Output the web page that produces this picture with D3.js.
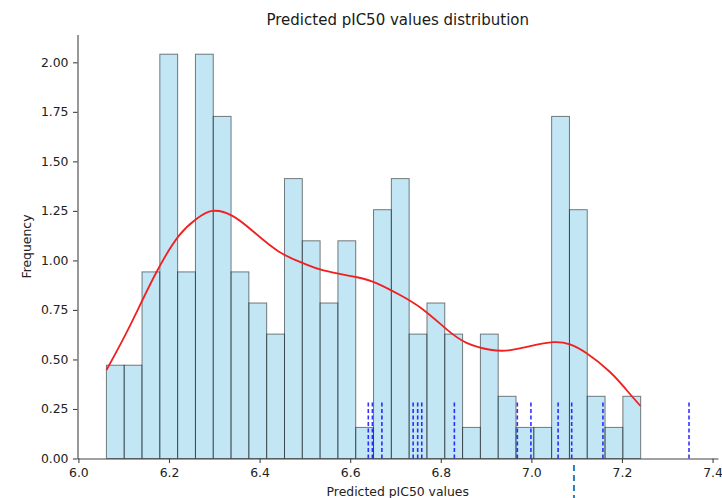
<!DOCTYPE html>
<html>
<head>
<meta charset="utf-8">
<script src="https://cdn.jsdelivr.net/npm/d3@7"></script>
<style>
  body { margin: 0; background: #fff; }
  svg { display: block; font-family: "DejaVu Sans", sans-serif; }
  .tick text { fill: #222; font-size: 12.4px; }
  .tick line { stroke: #444; stroke-width: 1.1; }
</style>
</head>
<body>
<svg id="chart" width="722" height="498"></svg>
<script>
// histogram bins (30 equal bins between first and last edge), counts
const binStart = 6.0618;
const binEnd = 7.2413;
const binCounts = [3, 3, 6, 13, 6, 13, 11, 6, 5, 4, 9, 7, 5, 7, 1, 8, 9, 4, 5, 4, 1, 4, 2, 1, 1, 11, 8, 2, 1, 2];

// kde curve samples (x, density)
const kdeX = [6.062, 6.112, 6.171, 6.222, 6.259, 6.296, 6.340, 6.384, 6.442, 6.497, 6.541, 6.615,
  6.659, 6.710, 6.762, 6.813, 6.857, 6.909, 6.950, 6.995, 7.048, 7.085, 7.122, 7.173, 7.210, 7.241];
const kdeY = [0.447, 0.662, 0.935, 1.125, 1.207, 1.250, 1.225, 1.150, 1.045, 0.985, 0.950, 0.915,
  0.884, 0.825, 0.750, 0.652, 0.584, 0.549, 0.546, 0.566, 0.587, 0.576, 0.531, 0.438, 0.346, 0.265];

// dashed markers of individual predictions
const markerX = [6.640, 6.649, 6.670, 6.739, 6.749, 6.758, 6.830, 6.969, 6.999, 7.059, 7.089, 7.158, 7.348];
const markerTop = 0.29;

// stray dashed line under the axis
const strayX = 7.094;
const strayY = [-0.033, -0.2];

const xTicks = [6.0, 6.2, 6.4, 6.6, 6.8, 7.0, 7.2, 7.4];
const yTicks = [0, 0.25, 0.5, 0.75, 1.0, 1.25, 1.5, 1.75, 2.0];

const svg = d3.select('svg#chart');

const x = d3.scaleLinear().domain([5.998, 7.412]).range([77.5, 718]);
const y = d3.scaleLinear().domain([0, 2.14]).range([458.5, 34.6]);

// turn counts into density
const total = d3.sum(binCounts);
const binW = (binEnd - binStart) / binCounts.length;
const bins = binCounts.map((c, i) => ({
  x0: binStart + i * binW,
  x1: binStart + (i + 1) * binW,
  freq: c / (total * binW)
}));

svg.append('g')
  .selectAll('rect')
  .data(bins)
  .enter()
  .append('rect')
  .attr('x', d => x(d.x0))
  .attr('width', d => x(d.x1) - x(d.x0))
  .attr('y', d => y(d.freq))
  .attr('height', d => y(0) - y(d.freq))
  .attr('fill', 'rgba(135,206,235,0.5)')
  .attr('stroke', 'rgba(0,0,0,0.5)')
  .attr('stroke-width', 1);

// kde line
const line = d3.line()
  .x(d => x(d[0]))
  .y(d => y(d[1]))
  .curve(d3.curveNatural);

svg.append('path')
  .datum(kdeX.map((v, i) => [v, kdeY[i]]))
  .attr('fill', 'none')
  .attr('stroke', '#f02020')
  .attr('stroke-width', 1.8)
  .attr('d', line);

// prediction markers
svg.append('g')
  .selectAll('line')
  .data(markerX)
  .enter()
  .append('line')
  .attr('x1', d => x(d))
  .attr('x2', d => x(d))
  .attr('y1', y(0))
  .attr('y2', y(markerTop))
  .attr('stroke', 'rgba(0,0,255,0.8)')
  .attr('stroke-width', 1.6)
  .attr('stroke-dasharray', '4,2.5');

svg.append('line')
  .attr('x1', x(strayX))
  .attr('x2', x(strayX))
  .attr('y1', y(strayY[0]))
  .attr('y2', y(strayY[1]))
  .attr('stroke', '#2a7fc0')
  .attr('stroke-width', 2)
  .attr('stroke-dasharray', '6,4');

// axes
const yAxis = svg.append('g')
  .attr('transform', `translate(${x.range()[0]},0)`)
  .call(d3.axisLeft(y).tickValues(yTicks).tickFormat(d3.format('.2f'))
    .tickSize(4.5).tickPadding(4.5).tickSizeOuter(0));

const xAxis = svg.append('g')
  .attr('transform', `translate(0,${y(0)})`)
  .call(d3.axisBottom(x).tickValues(xTicks).tickFormat(d3.format('.1f'))
    .tickSize(4.5).tickPadding(5).tickSizeOuter(0));

[yAxis, xAxis].forEach(g => {
  g.select('.domain').attr('stroke', '#444').attr('stroke-width', 1.1);
  g.selectAll('.tick text').attr('font-family', '"DejaVu Sans", sans-serif');
});

// titles
svg.append('text')
  .attr('x', (x.range()[0] + x.range()[1]) / 2)
  .attr('y', 25)
  .attr('text-anchor', 'middle')
  .attr('font-size', 15)
  .attr('fill', '#1a1a1a')
  .text('Predicted pIC50 values distribution');

svg.append('text')
  .attr('x', (x.range()[0] + x.range()[1]) / 2)
  .attr('y', 496)
  .attr('text-anchor', 'middle')
  .attr('font-size', 12.4)
  .attr('fill', '#222')
  .text('Predicted pIC50 values');

svg.append('text')
  .attr('transform', `translate(31,${(y.range()[0] + y.range()[1]) / 2}) rotate(-90)`)
  .attr('text-anchor', 'middle')
  .attr('font-size', 12.4)
  .attr('fill', '#222')
  .text('Frequency');
</script>
</body>
</html>
